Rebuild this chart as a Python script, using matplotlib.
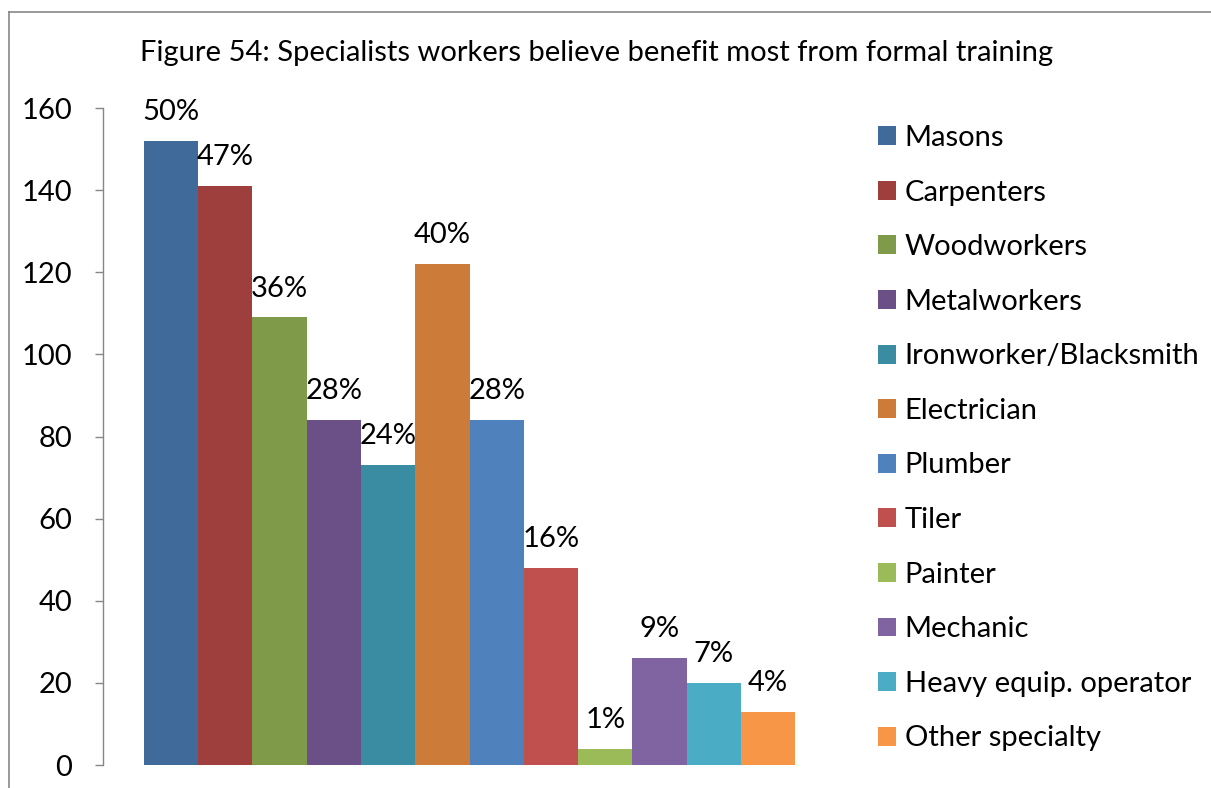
#!/usr/bin/env python3

import matplotlib

matplotlib.use("Agg")
import matplotlib.pyplot as plt
import numpy as np
from matplotlib.lines import Line2D

TITLE = "Figure 54: Specialists workers believe benefit most from formal training"

trades = ["Masons", "Carpenters", "Woodworkers", "Metalworkers", "Ironworker/Blacksmith",
          "Electrician", "Plumber", "Tiler", "Painter", "Mechanic",
          "Heavy equip. operator", "Other specialty"]
counts = [152, 141, 109, 84, 73, 122, 84, 48, 4, 26, 20, 13]
pct_labels = ["50%", "47%", "36%", "28%", "24%", "40%", "28%", "16%", "1%", "9%", "7%", "4%"]
yticks = [0, 20, 40, 60, 80, 100, 120, 140, 160]

colors = ["#3F6A99", "#9E3F3D", "#7F9A48", "#6A5087", "#3A8CA3", "#CC7B38",
          "#4F81BD", "#C0504D", "#9BBB59", "#8064A2", "#4BACC6", "#F79646"]

plt.rcParams["font.family"] = ["Lato", "DejaVu Sans"]
FS = 21

fig = plt.figure(figsize=(12.11, 7.88), dpi=100)
ax = fig.add_axes([103 / 1211, 1 - 765 / 788, 733 / 1211, 657 / 788])

n = len(trades)
xs = np.arange(n) - (n - 1) / 2
for x, v, lab, c, p in zip(xs, counts, trades, colors, pct_labels):
    ax.bar(x, v, width=1.0, color=c, label=lab)
    ax.annotate(p, (x, v), xytext=(0, 15), textcoords="offset points",
                ha="center", va="baseline", fontsize=FS)

ax.set_xlim(-6.75, 6.75)
ax.set_ylim(0, 160)
ax.set_yticks(yticks)
ax.set_xticks([])
ax.tick_params(axis="y", direction="out", length=6, width=1, color="#868686",
               labelsize=FS, pad=16)
for side in ("top", "right", "bottom"):
    ax.spines[side].set_visible(False)
ax.spines["left"].set_color("#868686")
ax.spines["left"].set_linewidth(1)

fig.text(597 / 1211, 1 - 53 / 788, TITLE, ha="center", va="center", fontsize=FS)

ax.legend(loc="upper left", bbox_to_anchor=(878 / 1211, 1 - 125 / 788),
          bbox_transform=fig.transFigure, frameon=False, fontsize=FS,
          handlelength=0.62, handleheight=0.62, handletextpad=0.3,
          labelspacing=0.98, borderpad=0, borderaxespad=0)

# chart border (clipped by the page on right and bottom)
fig.add_artist(Line2D([9 / 1211, 1.0], [1 - 12 / 788, 1 - 12 / 788],
                      transform=fig.transFigure, color="#878787", linewidth=1.2))
fig.add_artist(Line2D([9 / 1211, 9 / 1211], [0.0, 1 - 12 / 788],
                      transform=fig.transFigure, color="#878787", linewidth=1.2))

fig.savefig("out.png", dpi=100)
